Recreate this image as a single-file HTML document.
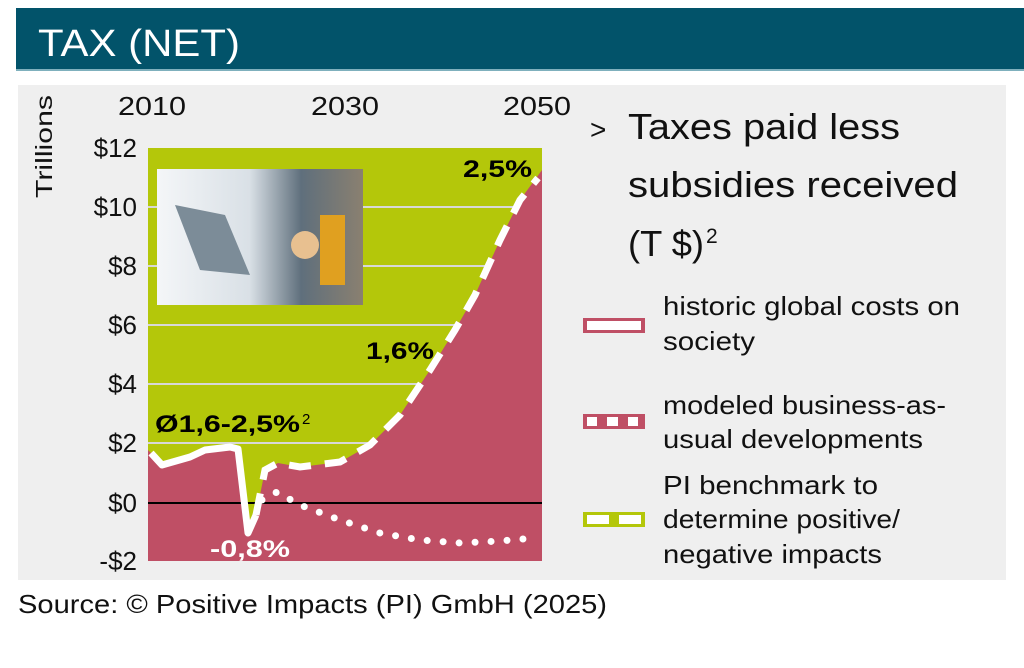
<!DOCTYPE html>
<html><head><meta charset="utf-8"><style>
body{margin:0;width:1024px;height:663px;background:#fff;overflow:hidden;font-family:"Liberation Sans",sans-serif;}
</style></head><body>
<svg width="1024" height="663" xmlns="http://www.w3.org/2000/svg" font-family="Liberation Sans, sans-serif">
<rect x="16" y="8" width="1008" height="62" fill="#02536a"/>
<rect x="16" y="69" width="1008" height="2" fill="#7fb0bd"/>
<text x="38" y="56" font-size="38" fill="#fff" textLength="202" lengthAdjust="spacingAndGlyphs">TAX (NET)</text>
<rect x="18" y="85" width="988" height="495" fill="#efefef"/>
<rect x="148" y="148" width="394" height="413" fill="#b4c70a"/>
<g stroke="#d8d8d8" stroke-width="2">
<line x1="148" y1="207" x2="542" y2="207"/><line x1="148" y1="266" x2="542" y2="266"/>
<line x1="148" y1="325" x2="542" y2="325"/><line x1="148" y1="384" x2="542" y2="384"/>
<line x1="148" y1="443" x2="542" y2="443"/>
</g>
<path d="M148,450 L151,453 L162,465 L190,457 L205,450 L230,447 L238,449 L248,533 L256,515 L265,470 L278,463 L300,467 L340,462 L370,445 L400,415 L430,370 L455,330 L475,295 L500,240 L520,200 L542,170 L542,561 L148,561 Z" fill="#bf4f65"/>
<line x1="148" y1="503" x2="542" y2="503" stroke="#000" stroke-width="2"/>
<path d="M151,453 L162,465 L190,457 L205,450 L230,447 L238,449 L248,533 L256,515" fill="none" stroke="#fff" stroke-width="7" stroke-linejoin="round"/>
<path d="M256,515 L265,470 L278,463 L300,467 L340,462 L370,445 L400,415 L430,370 L455,330 L475,295 L500,240 L520,200 L538,178" fill="none" stroke="#fff" stroke-width="7" stroke-dasharray="22,14"/>
<path d="M262,500 L277,492 L300,505 L340,520 L380,533 L420,540 L460,543 L500,541 L535,538" fill="none" stroke="#fff" stroke-width="7" stroke-linecap="round" stroke-dasharray="0,16"/>
<defs><linearGradient id="g1" x1="0" x2="1"><stop offset="0" stop-color="#f4f6f8"/><stop offset="0.45" stop-color="#d9e0e6"/><stop offset="0.7" stop-color="#5f6f7c"/><stop offset="1" stop-color="#8a8070"/></linearGradient></defs>
<rect x="157" y="169" width="206" height="136" fill="url(#g1)"/>
<polygon points="175,205 225,215 250,275 200,270" fill="#7c8c98"/>
<rect x="320" y="215" width="25" height="70" fill="#e0a020"/>
<circle cx="305" cy="245" r="14" fill="#e8c090"/>
<g font-size="24" fill="#000" font-weight="bold">
<text x="463" y="177" textLength="69" lengthAdjust="spacingAndGlyphs">2,5%</text>
<text x="366" y="359" textLength="68" lengthAdjust="spacingAndGlyphs">1,6%</text>
<text x="155" y="432" textLength="145" lengthAdjust="spacingAndGlyphs">Ø1,6-2,5%</text>
</g>
<text x="302" y="424" font-size="15" fill="#000">2</text>
<text x="210" y="557" font-size="24" fill="#fff" font-weight="bold" textLength="80" lengthAdjust="spacingAndGlyphs">-0,8%</text>
<g font-size="26" fill="#111">
<text x="118" y="115" textLength="68" lengthAdjust="spacingAndGlyphs">2010</text>
<text x="311" y="115" textLength="68" lengthAdjust="spacingAndGlyphs">2030</text>
<text x="503" y="115" textLength="68" lengthAdjust="spacingAndGlyphs">2050</text>
<g text-anchor="end">
<text x="137" y="157">$12</text><text x="137" y="216">$10</text><text x="137" y="275">$8</text>
<text x="137" y="334">$6</text><text x="137" y="393">$4</text><text x="137" y="452">$2</text>
<text x="137" y="512">$0</text><text x="137" y="570">-$2</text>
</g>
<text transform="translate(52,198) rotate(-90)" font-size="23" textLength="103" lengthAdjust="spacingAndGlyphs">Trillions</text>
</g>
<g font-size="36" fill="#111">
<text x="590" y="139" font-size="28">&gt;</text>
<text x="628" y="139" textLength="272" lengthAdjust="spacingAndGlyphs">Taxes paid less</text>
<text x="628" y="197" textLength="330" lengthAdjust="spacingAndGlyphs">subsidies received</text>
<text x="628" y="256" textLength="76" lengthAdjust="spacingAndGlyphs">(T $)</text>
<text x="706" y="243" font-size="21">2</text>
</g>
<rect x="583" y="318" width="62" height="15" fill="#bf4f65"/><rect x="587" y="321" width="54" height="9" fill="#fff"/>
<rect x="583" y="414" width="62" height="15" fill="#bf4f65"/>
<rect x="587" y="417" width="10" height="9" fill="#fff"/><rect x="607" y="417" width="11" height="9" fill="#fff"/><rect x="628" y="417" width="10" height="9" fill="#fff"/>
<rect x="583" y="512" width="62" height="15" fill="#b4c70a"/>
<rect x="587" y="515" width="22" height="9" fill="#fff"/><rect x="619" y="515" width="22" height="9" fill="#fff"/>
<g font-size="26" fill="#111">
<text x="663" y="315" textLength="297" lengthAdjust="spacingAndGlyphs">historic global costs on</text>
<text x="663" y="350" textLength="92" lengthAdjust="spacingAndGlyphs">society</text>
<text x="663" y="414" textLength="283" lengthAdjust="spacingAndGlyphs">modeled business-as-</text>
<text x="663" y="448" textLength="260" lengthAdjust="spacingAndGlyphs">usual developments</text>
<text x="663" y="494" textLength="215" lengthAdjust="spacingAndGlyphs">PI benchmark to</text>
<text x="663" y="528" textLength="237" lengthAdjust="spacingAndGlyphs">determine positive/</text>
<text x="663" y="563" textLength="219" lengthAdjust="spacingAndGlyphs">negative impacts</text>
</g>
<text x="18" y="613" font-size="26" fill="#111" textLength="589" lengthAdjust="spacingAndGlyphs">Source: © Positive Impacts (PI) GmbH (2025)</text>
</svg>
</body></html>
